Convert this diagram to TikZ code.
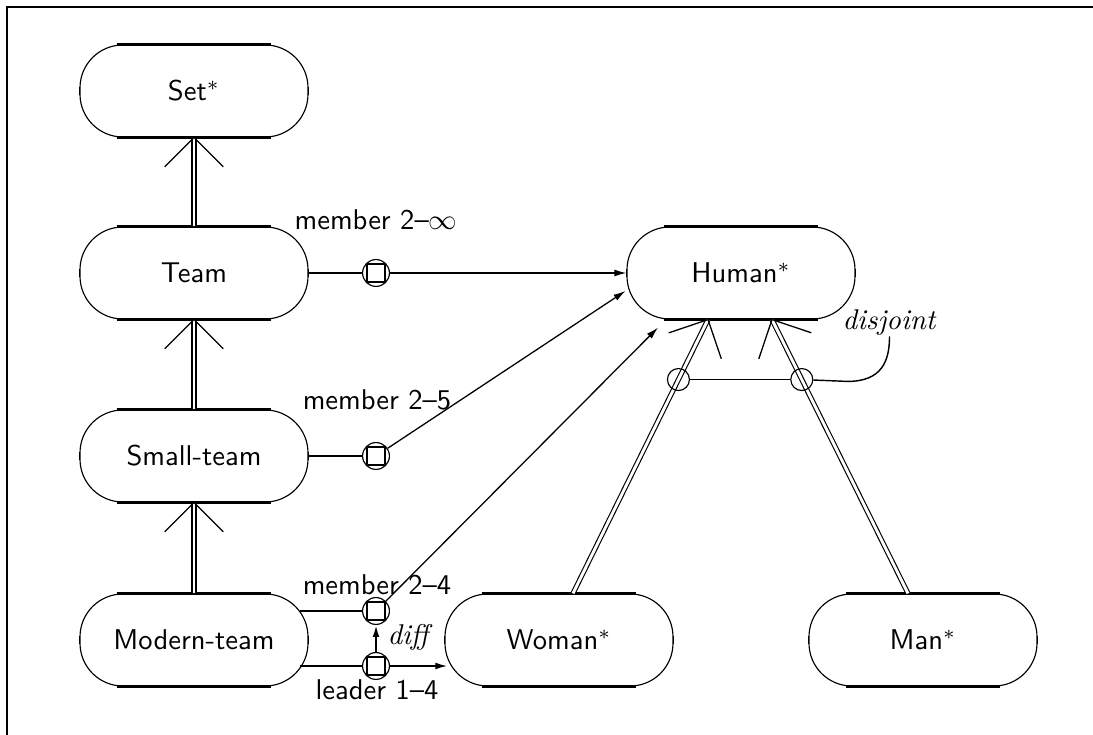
\documentclass[tikz,border=0pt]{standalone}
\usetikzlibrary{calc,arrows.meta}

% subclass link: double line with an open V head at the superclass end
\newcommand\isalink[3]{%
  \draw[#1] (#2) -- (#3);
  \draw[line width=0.45pt] ($(#3)!14.5pt!45:(#2)$) -- (#3) -- ($(#3)!14.5pt!-45:(#2)$);}

\begin{document}
\begin{tikzpicture}[x=0.35pt,y=0.35pt,
  cls/.style={draw, line width=0.4pt, rounded corners=15pt,
    minimum width=79.8pt, minimum height=32.2pt, inner sep=0pt, font=\sffamily},
  rel/.style={circle, draw, line width=0.4pt, minimum size=9.4pt, inner sep=0pt,
    path picture={\draw[line width=0.7pt]
      ([shift={(-3pt,-3pt)}]path picture bounding box.center) rectangle
      ([shift={(3pt,3pt)}]path picture bounding box.center);}},
  djc/.style={circle, draw, line width=0.4pt, minimum size=7.7pt, inner sep=0pt},
  lbl/.style={font=\sffamily, anchor=base, inner sep=0pt},
  link/.style={line width=0.65pt},
  ptr/.style={line width=0.45pt, -{Latex[length=4.2pt,width=2.4pt]}},
  isav/.style={double, line width=0.7pt, double distance=0.7pt},
  isas/.style={double, line width=0.4pt, double distance=1pt}]

\useasboundingbox (0,0) rectangle (1093,-735);

% frame
\draw[line width=0.8pt] (7,-760) -- (7,-7) -- (1120,-7);

% classes
\node[cls] (st) at (194,-91)  {Set$^*$};
\node[cls] (tm) at (194,-273) {Team};
\node[cls] (sm) at (194,-456) {Small-team};
\node[cls] (mt) at (194,-640) {Modern-team};
\node[cls] (hu) at (741,-273) {Human$^*$};
\node[cls] (wo) at (559,-640) {Woman$^*$};
\node[cls] (ma) at (923,-640) {Man$^*$};

% straight sides of the class boxes are drawn heavier
\foreach \n in {st,tm,sm,mt,hu,wo,ma}{
  \draw[line width=0.8pt]
    ([xshift=13pt]\n.north west) -- ([xshift=-13pt]\n.north east)
    ([xshift=13pt]\n.south west) -- ([xshift=-13pt]\n.south east);
  \draw[line width=0.6pt]
    ([yshift=-15pt]\n.north west) -- ([yshift=15pt]\n.south west)
    ([yshift=-15pt]\n.north east) -- ([yshift=15pt]\n.south east);
}

% subclass hierarchy
\isalink{isav}{tm.north}{st.south}
\isalink{isav}{sm.north}{tm.south}
\isalink{isav}{mt.north}{sm.south}

\coordinate (wtop)  at ([shift={(14,0)}]wo.north);
\coordinate (whead) at ([shift={(-33,0)}]hu.south);
\coordinate (mtop)  at ([shift={(-15,0)}]ma.north);
\coordinate (mhead) at ([shift={(31,0)}]hu.south);
\isalink{isas}{wtop}{whead}
\isalink{isas}{mtop}{mhead}

% disjointness of the two subclasses
\node[djc] (d1) at ($(wtop)!0.781!(whead)$) {};
\node[djc] (d2) at ($(mtop)!0.781!(mhead)$) {};
\node[anchor=base west, inner sep=0pt] (djl) at (842,-330) {\textit{disjoint}};
\draw[line width=0.6pt] (d1) -- (d2);
\draw[line width=0.5pt] (d2) -- ([shift={(-42,-45)}]djl.south)
  .. controls ([shift={(-8,-45)}]djl.south) and ([shift={(0,-25)}]djl.south) .. (djl.south);

% relations
\node[rel] (c1) at (376,-273) {};
\node[rel] (c2) at (376,-456) {};
\node[rel] (c3) at (376,-611) {};
\node[rel] (c4) at (376,-666) {};

\draw[link] (tm.east) -- (c1);
\draw[ptr] (c1) -- (hu.west);
\draw[link] (sm.east) -- (c2);
\draw[ptr] (c2) -- ([shift={(-1,-18)}]hu.west);
\draw[link] ([shift={(-9,29)}]mt.east) -- (c3);
\coordinate (m3) at ([shift={(-83,-8)}]hu.south);
\draw[ptr] (c3) -- (m3);
\draw[link] ([shift={(-9,-26)}]mt.east) -- (c4);
\draw[ptr, line width=0.6pt] (c4) -- ([shift={(3,-26)}]wo.west);
\draw[ptr, line width=0.7pt] (c4) -- (c3);

% relation labels
\node[lbl] (l1) at (376,-230) {member 2--$\infty$};
\node[lbl] (l2) at (377,-410) {member 2--5};
\node[lbl] (l3) at (377,-595) {member 2--4};
\node[lbl] (l4) at (377,-700) {leader 1--4};
\node[anchor=base west, inner sep=0pt] (dl) at (387,-645) {\textit{diff}};

\end{tikzpicture}
\end{document}
